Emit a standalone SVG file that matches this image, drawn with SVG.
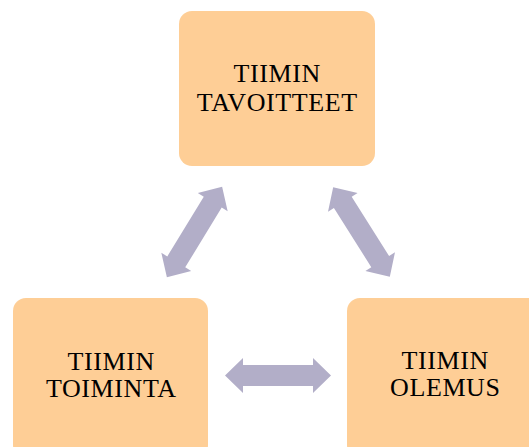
<svg xmlns="http://www.w3.org/2000/svg" width="529" height="447" viewBox="0 0 529 447">
<defs>
<style>
.box{fill:#FECE96;}
.lbl{font-family:"Liberation Serif","Times New Roman",serif;font-size:26px;fill:#000;text-anchor:middle;letter-spacing:0.6px;}
.arr{fill:#B2AEC8;}
</style>
<polygon id="dbl" points="-53,0 -35,-17.5 -35,-10.5 35,-10.5 35,-17.5 53,0 35,17.5 35,10.5 -35,10.5 -35,17.5"/>
</defs>
<rect width="529" height="447" fill="#FFFFFF"/>
<g id="connectors">
<use href="#dbl" class="arr" transform="translate(194.5,232) rotate(-58.6)"/>
<use href="#dbl" class="arr" transform="translate(361.5,232) rotate(57.7)"/>
<use href="#dbl" class="arr" transform="translate(278,375.5)"/>
</g>
<g id="node-tavoitteet">
<rect class="box" x="179" y="11" width="196" height="155" rx="13"/>
<text class="lbl" x="277.3" y="82">TIIMIN</text>
<text class="lbl" x="277.3" y="111">TAVOITTEET</text>
</g>
<g id="node-toiminta">
<rect class="box" x="13" y="298" width="195" height="160" rx="13"/>
<text class="lbl" x="111.3" y="370">TIIMIN</text>
<text class="lbl" x="111.3" y="397">TOIMINTA</text>
</g>
<g id="node-olemus">
<rect class="box" x="347" y="298" width="196" height="160" rx="13"/>
<text class="lbl" x="445.3" y="369">TIIMIN</text>
<text class="lbl" x="445.3" y="396">OLEMUS</text>
</g>
</svg>
